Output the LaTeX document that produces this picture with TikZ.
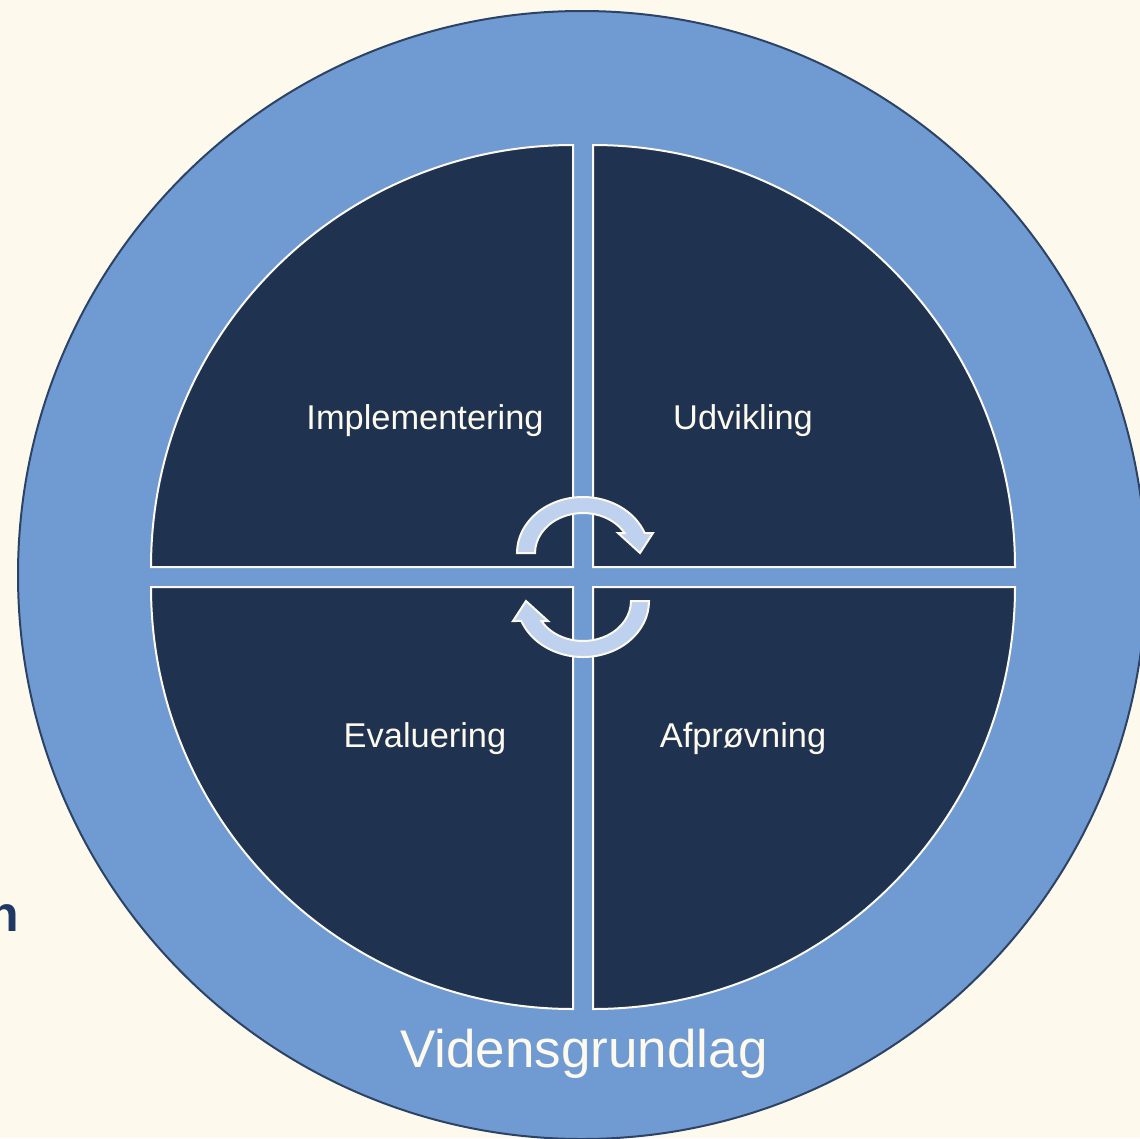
\documentclass[tikz,border=0pt]{standalone}
\usepackage{fontspec}
\setmainfont{Liberation Sans}
\definecolor{bg}{HTML}{FDF9EC}
\definecolor{ring}{HTML}{709BD2}
\definecolor{ringedge}{HTML}{2C4365}
\definecolor{quad}{HTML}{1F3350}
\definecolor{arrowfill}{HTML}{BED1EE}
\definecolor{darktext}{HTML}{1F3864}
\begin{document}
\begin{tikzpicture}[x=1pt,y=-1pt,
  quadrant/.style={fill=quad,draw=bg,line width=2pt},
  cyclearrow/.style={fill=arrowfill,draw=bg,line width=2pt,line join=miter},
  label/.style={text=bg,font=\fontsize{34.4}{40}\selectfont,anchor=base}]
\useasboundingbox (0,0) rectangle (1140,1138);
\clip (0,0) rectangle (1140,1138);
\fill[bg] (0,0) rectangle (1140,1138);
% outer ring
\draw[fill=ring,draw=ringedge,line width=2pt] (582,575) circle[radius=564];
% quadrants
\path[quadrant] (573,567) -- (151,567) arc[start angle=180,end angle=270,radius=422] -- cycle;
\path[quadrant] (593,567) -- (1015,567) arc[start angle=0,end angle=-90,radius=422] -- cycle;
\path[quadrant] (573,587) -- (151,587) arc[start angle=180,end angle=90,radius=422] -- cycle;
\path[quadrant] (593,587) -- (1015,587) arc[start angle=0,end angle=90,radius=422] -- cycle;
% cycle arrows
\path[cyclearrow] (517,553) arc[x radius=66,y radius=56,start angle=180,end angle=339.1]
  -- (653,533) -- (640,553) -- (618,533) -- (624.6,533)
  arc[x radius=48,y radius=40,start angle=-30,end angle=-180] -- cycle;
\begin{scope}[rotate around={180:(583,577)}]
\path[cyclearrow] (517,553) arc[x radius=66,y radius=56,start angle=180,end angle=339.1]
  -- (653,533) -- (640,553) -- (618,533) -- (624.6,533)
  arc[x radius=48,y radius=40,start angle=-30,end angle=-180] -- cycle;
\end{scope}
% labels
\node[label] (impl) at (425,429) {Implementering};
\node[label] (udv) at (743,429) {Udvikling};
\node[label] (eval) at (425,747) {Evaluering};
\node[label] (afp) at (743,747) {Afprøvning};
\node[text=bg,font=\fontsize{53}{60}\selectfont,anchor=base] (viden) at (584,1067) {Vidensgrundlag};
\node[text=darktext,font=\fontsize{50}{60}\selectfont\bfseries,anchor=base east,inner sep=0pt] (n) at (19,931) {n};
\end{tikzpicture}
\end{document}
